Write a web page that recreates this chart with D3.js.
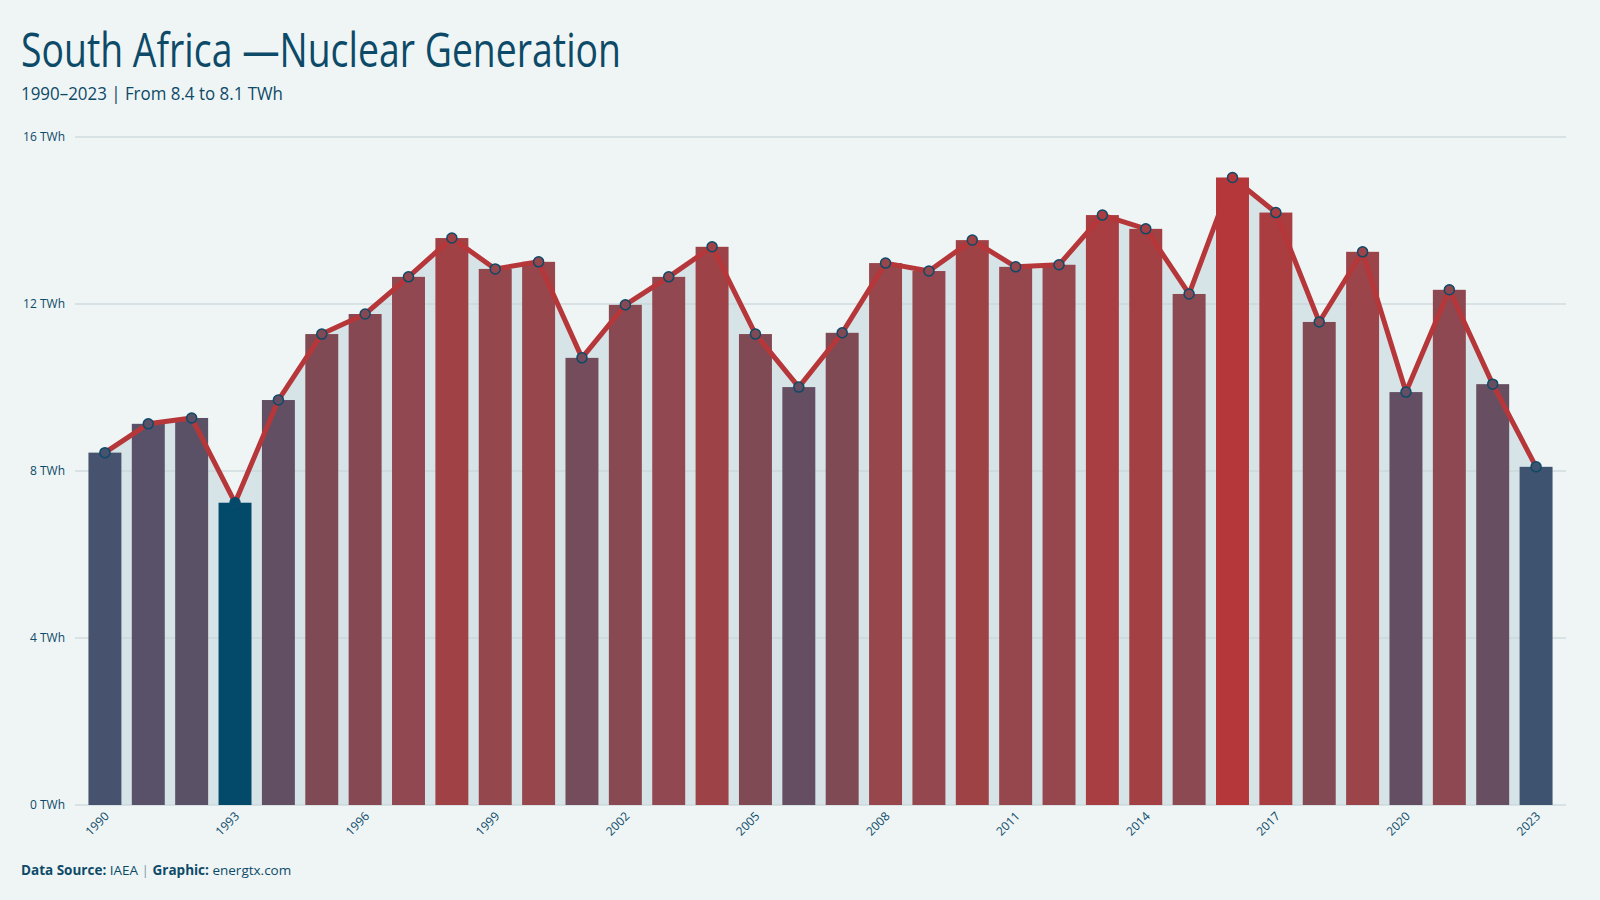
<!DOCTYPE html>
<html>
<head>
<meta charset="utf-8">
<script src="https://cdn.jsdelivr.net/npm/d3@7"></script>
<style>
  html, body { margin: 0; padding: 0; background: #eff5f5; }
  svg { display: block; }
  .tick-label { font-family: "Open Sans", "Noto Sans", sans-serif; font-size: 12px; fill: #0d4a68; }
</style>
</head>
<body>
<svg id="chart"></svg>
<script>
const width = 1600;
const height = 900;

// data (TWh)
const years = d3.range(1990, 2024);
const generation = [
  8.44, 9.13, 9.27, 7.24, 9.70, 11.28, 11.76, 12.65, 13.58, 12.84,
  13.01, 10.71, 11.98, 12.65, 13.37, 11.28, 10.01, 11.31, 12.98, 12.79,
  13.53, 12.89, 12.94, 14.13, 13.80, 12.24, 15.03, 14.19, 11.57, 13.25,
  9.89, 12.34, 10.08, 8.10
];
const yTicks = [0, 4, 8, 12, 16];
const xTickYears = [1990, 1993, 1996, 1999, 2002, 2005, 2008, 2011, 2014, 2017, 2020, 2023];

const data = years.map((y, i) => ({ year: y, value: generation[i] }));

const navy = "#0d4a68";
const red = "#b5373a";

const svg = d3.select("#chart")
  .attr("width", width)
  .attr("height", height)
  .attr("viewBox", [0, 0, width, height]);

svg.append("rect").attr("width", width).attr("height", height).attr("fill", "#eff5f5");

const x = d3.scaleBand()
  .domain(years)
  .range([75, 1566])
  .paddingInner(0.24)
  .paddingOuter(0.31);

const y = d3.scaleLinear()
  .domain([0, 16])
  .range([805, 137]);

// bar colour goes from the navy (lowest year) to the red (highest year)
const vmin = d3.min(generation), vmax = d3.max(generation);
const color = d3.scaleLinear()
  .domain([vmin, 8.1, 9.2, 10.0, 11.3, 12.65, 13.6, vmax])
  .range(["#03496a", "#3e5370", "#5a5168", "#664e62", "#804a55", "#924850", "#a04245", "#b5373a"]);

const cx = d => x(d.year) + x.bandwidth() / 2;

// area under the line
svg.append("path")
  .datum(data)
  .attr("fill", "#d6e3e7")
  .attr("d", d3.area().x(cx).y0(y(0)).y1(d => y(d.value)));

// gridlines + y labels
const grid = svg.append("g");
grid.selectAll("line")
  .data(yTicks)
  .join("line")
    .attr("x1", 75)
    .attr("x2", 1566)
    .attr("y1", d => y(d))
    .attr("y2", d => y(d))
    .attr("stroke", "#c9d6d9")
    .attr("stroke-width", 1.5)
    .attr("stroke-opacity", 0.8);

grid.selectAll("text")
  .data(yTicks)
  .join("text")
    .attr("class", "tick-label")
    .attr("x", 65)
    .attr("y", d => y(d))
    .attr("dy", "0.35em")
    .attr("text-anchor", "end")
    .text(d => d + " TWh");

// bars
svg.append("g")
  .selectAll("rect")
  .data(data)
  .join("rect")
    .attr("x", d => x(d.year))
    .attr("y", d => y(d.value))
    .attr("width", x.bandwidth())
    .attr("height", d => y(0) - y(d.value))
    .attr("fill", d => color(d.value));

// line
svg.append("path")
  .datum(data)
  .attr("fill", "none")
  .attr("stroke", red)
  .attr("stroke-width", 5)
  .attr("stroke-linejoin", "round")
  .attr("d", d3.line().x(cx).y(d => y(d.value)));

// points
svg.append("g")
  .selectAll("circle")
  .data(data)
  .join("circle")
    .attr("cx", cx)
    .attr("cy", d => y(d.value))
    .attr("r", 5)
    .attr("fill", d => color(d.value))
    .attr("stroke", navy)
    .attr("stroke-width", 1.5);

// x labels, every third year
svg.append("g")
  .selectAll("text")
  .data(xTickYears)
  .join("text")
    .attr("class", "tick-label")
    .attr("text-anchor", "end")
    .attr("transform", d => `translate(${x(d) + x.bandwidth() / 2 + 5},${y(0) + 12}) rotate(-45)`)
    .text(d => d);

// titles
svg.append("text")
  .attr("x", 21)
  .attr("y", 67)
  .attr("fill", navy)
  .attr("font-family", "'Open Sans', 'Noto Sans', sans-serif")
  .attr("font-size", 47)
  .attr("textLength", 600)
  .attr("lengthAdjust", "spacingAndGlyphs")
  .text("South Africa \u2014Nuclear Generation");

svg.append("text")
  .attr("x", 21)
  .attr("y", 100)
  .attr("fill", navy)
  .attr("font-family", "'Open Sans', 'Noto Sans', sans-serif")
  .attr("font-size", 19)
  .attr("textLength", 262)
  .attr("lengthAdjust", "spacingAndGlyphs")
  .text("1990\u20132023 | From 8.4 to 8.1 TWh");

// footer
const foot = svg.append("text")
  .attr("x", 21)
  .attr("y", 875)
  .attr("fill", navy)
  .attr("font-family", "'Open Sans', 'Noto Sans', sans-serif")
  .attr("font-size", 13.5);
foot.append("tspan").attr("font-weight", 700).text("Data Source:");
foot.append("tspan").text(" IAEA ");
foot.append("tspan").attr("fill", "#7f9aa8").text("|");
foot.append("tspan").attr("font-weight", 700).text(" Graphic:");
foot.append("tspan").text("  energtx.com");
</script>
</body>
</html>
